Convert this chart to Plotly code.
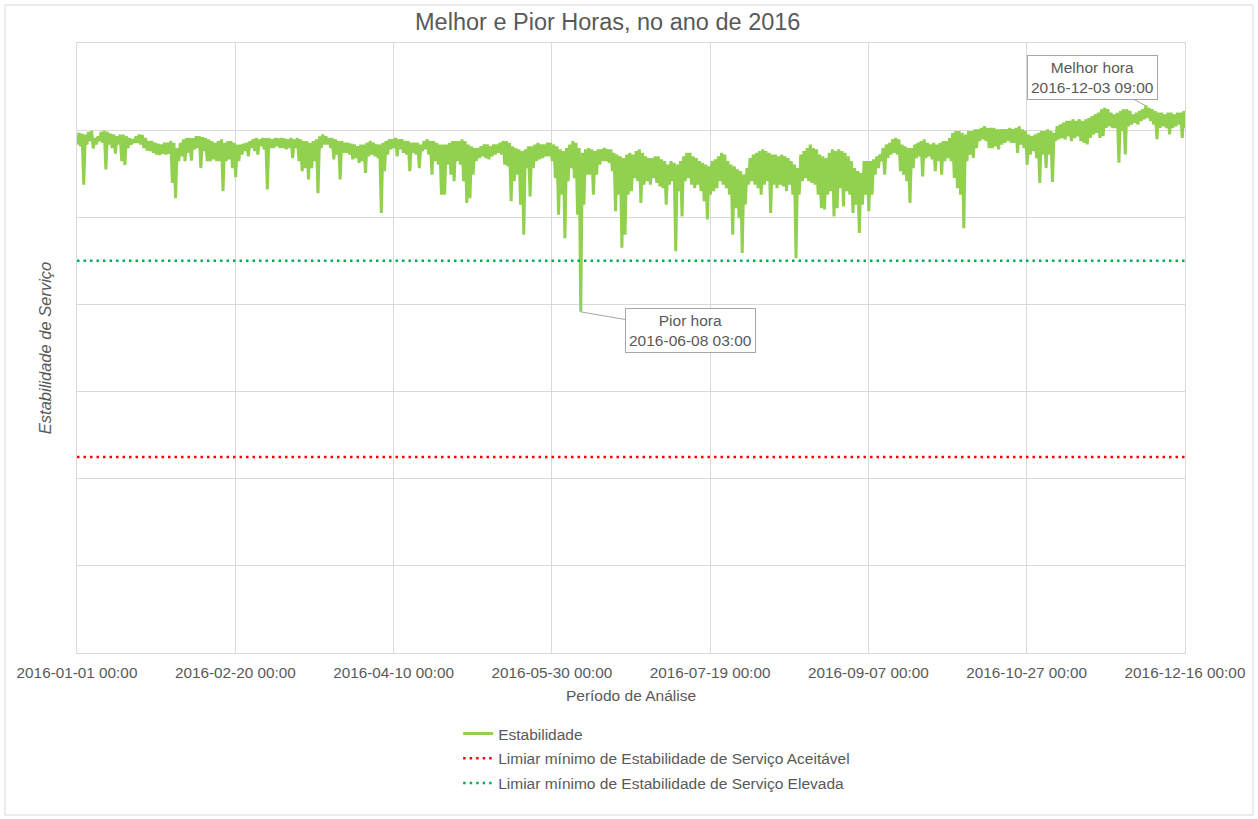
import pandas as pd
import plotly.graph_objects as go

# ---- Data ----
# Daily upper (hi) and lower (lo) envelope of the hourly "Estabilidade" series,
# split in blocks of 50 days starting 2016-01-01.
hi_1 = [1.194,1.192,1.190,1.196,1.198,1.182,1.186,1.196,1.199,1.196,
        1.192,1.190,1.186,1.190,1.190,1.186,1.182,1.179,1.186,1.190,
        1.189,1.182,1.175,1.175,1.171,1.169,1.167,1.171,1.171,1.175,
        1.171,1.159,1.171,1.179,1.182,1.182,1.182,1.186,1.186,1.184,
        1.182,1.179,1.175,1.171,1.175,1.179,1.171,1.175,1.175,1.171]
lo_1 = [1.167,1.163,1.075,1.167,1.175,1.158,1.167,1.175,1.171,1.110,
        1.167,1.159,1.146,1.167,1.129,1.120,1.159,1.167,1.171,1.171,
        1.167,1.159,1.153,1.152,1.148,1.144,1.143,1.146,1.144,1.146,
        1.079,1.044,1.129,1.140,1.129,1.148,1.130,1.156,1.159,1.113,
        1.152,1.129,1.129,1.133,1.129,1.129,1.060,1.129,1.133,1.113]
hi_2 = [1.167,1.167,1.169,1.171,1.175,1.179,1.182,1.179,1.182,1.182,
        1.182,1.179,1.182,1.181,1.182,1.181,1.179,1.182,1.179,1.182,
        1.179,1.175,1.175,1.171,1.175,1.179,1.186,1.190,1.186,1.182,
        1.182,1.179,1.175,1.175,1.171,1.171,1.169,1.167,1.163,1.167,
        1.167,1.171,1.175,1.171,1.167,1.167,1.171,1.175,1.179,1.179]
lo_2 = [1.092,1.129,1.144,1.152,1.140,1.159,1.152,1.144,1.163,1.156,
        1.064,1.159,1.159,1.163,1.159,1.159,1.156,1.159,1.136,1.159,
        1.129,1.106,1.113,1.087,1.113,1.129,1.055,1.159,1.167,1.167,
        1.159,1.133,1.144,1.087,1.148,1.148,1.144,1.133,1.136,1.125,
        1.129,1.102,1.140,1.144,1.140,1.136,1.010,1.106,1.144,1.156]
hi_3 = [1.182,1.179,1.179,1.175,1.175,1.171,1.171,1.171,1.167,1.175,
        1.179,1.175,1.175,1.171,1.167,1.167,1.167,1.171,1.175,1.175,
        1.175,1.179,1.175,1.167,1.163,1.159,1.159,1.163,1.167,1.167,
        1.163,1.167,1.167,1.171,1.175,1.175,1.171,1.163,1.159,1.156,
        1.152,1.156,1.163,1.163,1.167,1.171,1.167,1.167,1.171,1.171]
lo_3 = [1.159,1.140,1.156,1.148,1.144,1.106,1.148,1.144,1.113,1.152,
        1.156,1.144,1.098,1.129,1.121,1.052,1.052,1.121,1.098,1.083,
        1.129,1.121,1.083,1.033,1.044,1.098,1.129,1.136,1.140,1.136,
        1.133,1.140,1.144,1.148,1.144,1.121,1.117,1.037,1.083,1.098,
        1.029,0.960,1.113,1.048,1.113,1.129,1.133,1.136,1.140,1.140]
hi_4 = [1.167,1.163,1.156,1.152,1.159,1.167,1.175,1.171,1.159,1.148,
        1.156,1.159,1.156,1.152,1.156,1.156,1.159,1.156,1.156,1.148,
        1.144,1.140,1.136,1.144,1.148,1.144,1.152,1.156,1.148,1.140,
        1.136,1.136,1.140,1.140,1.133,1.129,1.121,1.129,1.125,1.121,
        1.129,1.140,1.148,1.148,1.140,1.136,1.129,1.125,1.121,1.117]
lo_4 = [1.129,1.090,1.006,1.052,0.952,1.083,1.113,1.090,1.006,0.783,
        1.029,1.098,1.098,1.052,1.098,1.121,1.129,1.129,1.125,1.106,
        1.014,1.052,0.930,0.960,1.052,1.060,1.090,1.083,1.033,1.075,
        1.083,1.075,1.090,1.079,1.071,1.067,1.029,1.075,1.083,0.922,
        1.060,1.002,1.083,1.090,1.075,1.067,1.075,1.060,1.037,0.995]
hi_5 = [1.129,1.133,1.140,1.148,1.144,1.129,1.121,1.117,1.110,1.106,
        1.098,1.113,1.136,1.144,1.148,1.152,1.156,1.152,1.148,1.144,
        1.144,1.140,1.144,1.140,1.136,1.129,1.121,1.113,1.144,1.152,
        1.159,1.167,1.159,1.156,1.144,1.140,1.136,1.148,1.156,1.152,
        1.156,1.152,1.148,1.140,1.129,1.113,1.106,1.102,1.129,1.129]
lo_5 = [1.052,1.060,1.067,1.083,1.075,1.067,1.052,0.960,1.021,0.998,
        0.918,1.029,1.075,1.083,1.075,1.067,1.052,1.075,1.083,1.010,
        1.075,1.067,1.075,1.071,1.060,1.075,1.052,0.906,1.052,1.083,
        1.090,1.083,1.079,1.075,1.052,1.021,1.018,1.052,1.060,1.002,
        1.021,1.067,1.025,1.060,1.052,1.010,1.029,0.964,1.029,1.052]
hi_6 = [1.129,1.133,1.140,1.144,1.159,1.167,1.171,1.179,1.182,1.179,
        1.167,1.163,1.159,1.159,1.167,1.171,1.175,1.179,1.171,1.167,
        1.171,1.167,1.171,1.175,1.175,1.182,1.194,1.198,1.198,1.194,
        1.190,1.198,1.198,1.202,1.202,1.205,1.209,1.205,1.205,1.205,
        1.202,1.202,1.202,1.202,1.205,1.202,1.205,1.209,1.202,1.198]
lo_6 = [1.014,1.052,1.098,1.113,1.129,1.098,1.136,1.144,1.148,1.144,
        1.106,1.098,1.083,1.033,1.113,1.136,1.140,1.094,1.136,1.140,
        1.133,1.106,1.129,1.098,1.129,1.136,1.129,1.090,1.067,1.052,
        0.975,1.129,1.144,1.136,1.159,1.175,1.179,1.175,1.159,1.159,
        1.163,1.156,1.167,1.171,1.175,1.171,1.171,1.148,1.167,1.159]
hi_7 = [1.190,1.186,1.190,1.194,1.198,1.198,1.202,1.198,1.194,1.209,
        1.213,1.217,1.221,1.221,1.225,1.221,1.225,1.221,1.225,1.228,
        1.232,1.236,1.240,1.248,1.251,1.248,1.240,1.236,1.240,1.244,
        1.248,1.248,1.244,1.236,1.240,1.244,1.248,1.257,1.251,1.248,
        1.244,1.240,1.240,1.236,1.240,1.240,1.236,1.240,1.240,1.244,
        1.240]
lo_7 = [1.121,1.144,1.152,1.136,1.079,1.144,1.113,1.144,1.081,1.175,
        1.179,1.182,1.179,1.186,1.175,1.182,1.186,1.175,1.171,1.167,
        1.182,1.190,1.194,1.182,1.186,1.205,1.209,1.205,1.205,1.125,
        1.198,1.144,1.209,1.213,1.217,1.213,1.221,1.225,1.228,1.221,
        1.213,1.179,1.205,1.209,1.205,1.190,1.205,1.209,1.213,1.182,
        1.205]

limiar_aceitavel = 0.45
limiar_elevada = 0.90

pior_hora = ("2016-06-08 03:00", 0.783)
melhor_hora = ("2016-12-03 09:00", 1.257)

inicio = "2016-01-01 00:00"
fim = "2016-12-16 00:00"

# ---- Build series: each day -> (low at 03:00, high at 15:00) ----
his = hi_1 + hi_2 + hi_3 + hi_4 + hi_5 + hi_6 + hi_7
los = lo_1 + lo_2 + lo_3 + lo_4 + lo_5 + lo_6 + lo_7
valores = []
for lo, hi in zip(los, his):
    valores.extend([lo, hi])
tempos = pd.date_range("2016-01-01 03:00", periods=len(valores), freq="12h")

txt = "#595959"
font_family = "Liberation Sans, Arial, sans-serif"

fig = go.Figure()
fig.add_trace(go.Scatter(x=tempos, y=valores, mode="lines", name="Estabilidade",
                         line=dict(color="#92d050", width=3), legendgroup="a"))
fig.add_trace(go.Scatter(x=[inicio, fim], y=[limiar_aceitavel]*2, mode="lines",
                         name="Limiar mínimo de Estabilidade de Serviço Aceitável",
                         line=dict(color="#ff0000", width=2.5, dash="2.5px,4px"), legendgroup="b"))
fig.add_trace(go.Scatter(x=[inicio, fim], y=[limiar_elevada]*2, mode="lines",
                         name="Limiar mínimo de Estabilidade de Serviço Elevada",
                         line=dict(color="#00b050", width=2.5, dash="2.5px,4px"), legendgroup="c"))

ann_common = dict(showarrow=True, arrowhead=0, arrowwidth=1, arrowcolor="#a6a6a6",
                  bgcolor="white", bordercolor="#a6a6a6", borderwidth=1, borderpad=3,
                  font=dict(size=15.5, color=txt, family=font_family))
fig.add_annotation(x=melhor_hora[0], y=melhor_hora[1],
                   text="Melhor hora<br>" + melhor_hora[0], ax=-53, ay=-28, **ann_common)
fig.add_annotation(x=pior_hora[0], y=pior_hora[1],
                   text="Pior hora<br>" + pior_hora[0], ax=110, ay=19, **ann_common)

# outer chart border
fig.add_shape(type="rect", xref="paper", yref="paper",
              x0=-0.065, x1=1.0614, y0=-0.2656, y1=1.0623,
              line=dict(color="#d9d9d9", width=1), fillcolor="rgba(0,0,0,0)")

fig.update_layout(
    width=1258, height=819,
    margin=dict(l=77, r=73, t=43, b=166),
    paper_bgcolor="white", plot_bgcolor="white",
    font=dict(family=font_family, color=txt, size=15.3),
    title=dict(text="Melhor e Pior Horas, no ano de 2016", x=0.479, xref="paper",
               xanchor="center", y=0.973, yanchor="middle",
               font=dict(size=23.5, color=txt)),
    showlegend=True,
    legend=dict(orientation="v", x=0.344, xanchor="left", y=-0.105, yanchor="top",
                tracegroupgap=1.5, font=dict(size=15.5, color=txt),
                bgcolor="rgba(0,0,0,0)"),
    xaxis=dict(type="date", range=[inicio, fim], tick0=inicio, automargin=False,
               dtick=50 * 86400000, tickformat="%Y-%m-%d %H:%M",
               showgrid=True, gridcolor="#d9d9d9", gridwidth=1,
               showline=True, linecolor="#d9d9d9", mirror=True,
               ticks="outside", ticklen=6, tickcolor="rgba(0,0,0,0)",
               tickfont=dict(size=15.3, color=txt),
               title=dict(text="Período de Análise", font=dict(size=15.5, color=txt), standoff=9)),
    yaxis=dict(range=[0, 1.4], dtick=0.2, showticklabels=False, automargin=False,
               showgrid=True, gridcolor="#d9d9d9", gridwidth=1, zeroline=False,
               showline=True, linecolor="#d9d9d9", mirror=True, ticks="",
               title=dict(text="<i>Estabilidade de Serviço</i>",
                          font=dict(size=16.5, color=txt), standoff=20)),
)

fig.write_html("out.html", config={"displayModeBar": False},
               post_script="document.body.style.margin='0';")
